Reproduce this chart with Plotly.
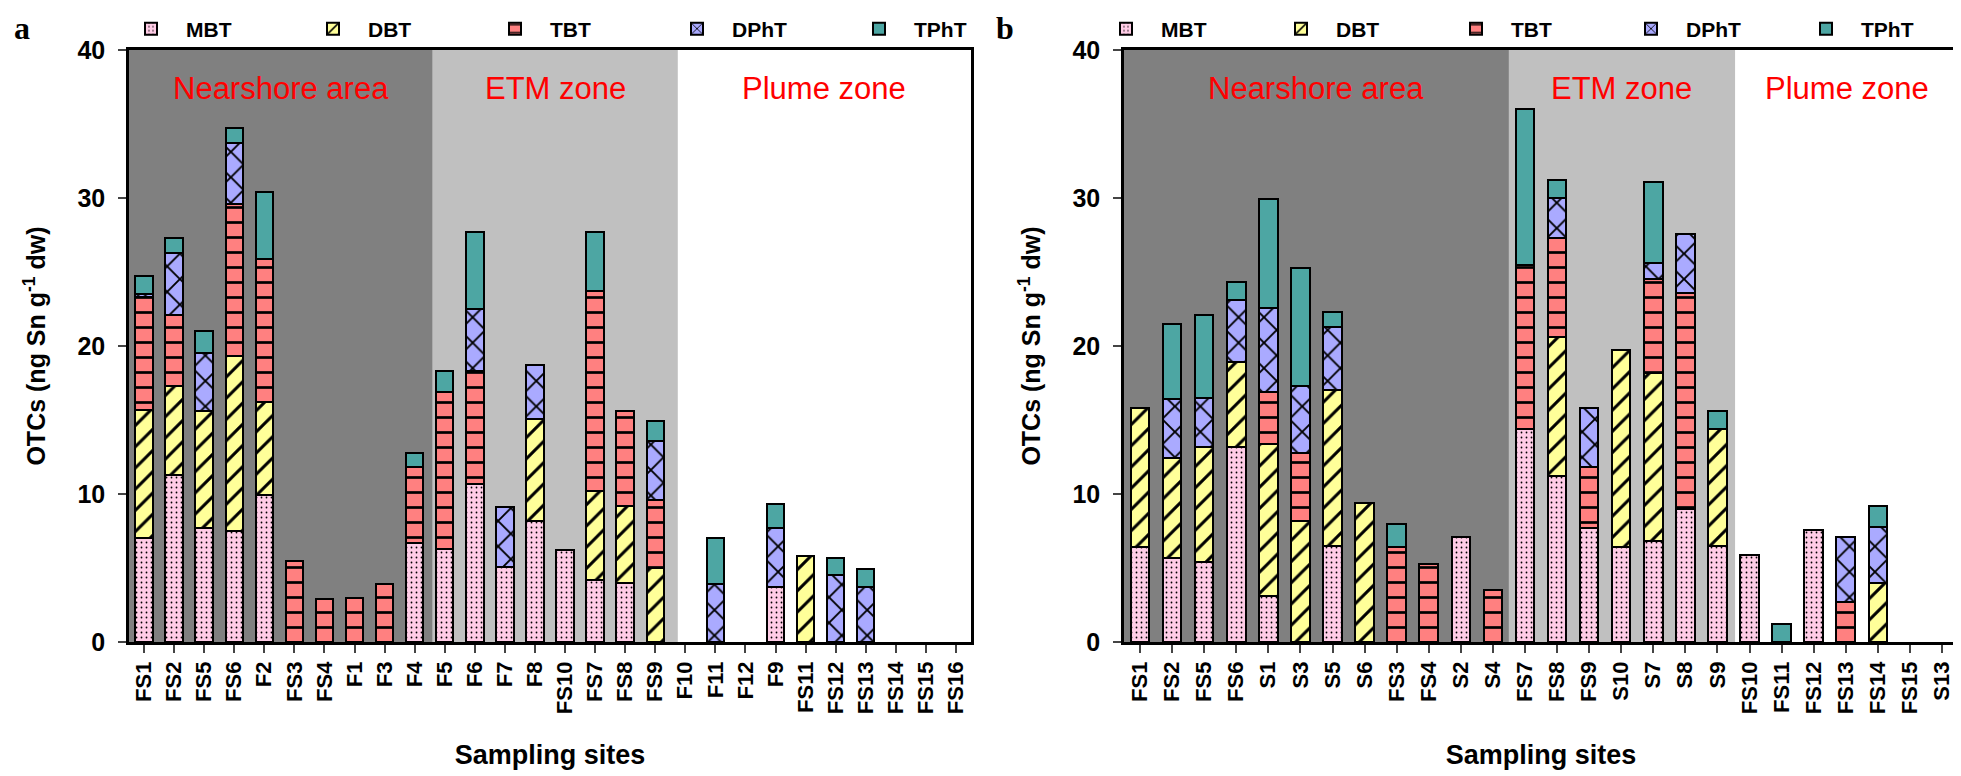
import plotly.graph_objects as go

# panel a
sites_a = ["FS1", "FS2", "FS5", "FS6", "F2", "FS3", "FS4", "F1", "F3", "F4",
           "F5", "F6", "F7", "F8", "FS10", "FS7", "FS8", "FS9",
           "F10", "F11", "F12", "F9", "FS11", "FS12", "FS13", "FS14", "FS15", "FS16"]
mbt_a = [7.0, 11.3, 7.7, 7.5, 9.9, 0, 0, 0, 0, 6.7, 6.3, 10.7, 5.1, 8.2, 6.2, 4.2, 4.0, 0,
         0, 0, 0, 3.7, 0, 0, 0, 0, 0, 0]
dbt_a = [8.7, 6.0, 7.9, 11.8, 6.3, 0, 0, 0, 0, 0, 0, 0, 0, 6.9, 0, 6.0, 5.2, 5.0,
         0, 0, 0, 0, 5.8, 0, 0, 0, 0, 0]
tbt_a = [7.6, 4.8, 0, 10.3, 9.7, 5.5, 2.9, 3.0, 3.9, 5.1, 10.6, 7.6, 0, 0, 0, 13.5, 6.4, 4.6,
         0, 0, 0, 0, 0, 0, 0, 0, 0, 0]
dpht_a = [0.2, 4.2, 3.9, 4.1, 0, 0, 0, 0, 0, 0, 0, 4.2, 4.0, 3.6, 0, 0, 0, 4.0,
          0, 3.9, 0, 4.0, 0, 4.5, 3.7, 0, 0, 0]
tpht_a = [1.2, 1.0, 1.5, 1.0, 4.5, 0, 0, 0, 0, 1.0, 1.4, 5.2, 0, 0, 0, 4.0, 0, 1.3,
          0, 3.1, 0, 1.6, 0, 1.2, 1.2, 0, 0, 0]

# panel b
sites_b = ["FS1", "FS2", "FS5", "FS6", "S1", "S3", "S5", "S6", "FS3", "FS4", "S2", "S4",
           "FS7", "FS8", "FS9", "S10", "S7", "S8", "S9",
           "FS10", "FS11", "FS12", "FS13", "FS14", "FS15", "S13"]
mbt_b = [6.4, 5.7, 5.4, 13.2, 3.1, 0, 6.5, 0, 0, 0, 7.1, 0,
         14.4, 11.2, 7.7, 6.4, 6.8, 9.0, 6.5, 5.9, 0, 7.6, 0, 0, 0, 0]
dbt_b = [9.4, 6.7, 7.8, 5.7, 10.3, 8.2, 10.5, 9.4, 0, 0, 0, 0,
         0, 9.4, 0, 13.3, 11.4, 0, 7.9, 0, 0, 0, 0, 4.0, 0, 0]
tbt_b = [0, 0, 0, 0, 3.5, 4.6, 0, 0, 6.4, 5.3, 0, 3.5,
         11.1, 6.7, 4.1, 0, 6.3, 14.6, 0, 0, 0, 0, 2.7, 0, 0, 0]
dpht_b = [0, 4.0, 3.3, 4.2, 5.7, 4.5, 4.3, 0, 0, 0, 0, 0,
          0, 2.7, 4.0, 0, 1.1, 4.0, 0, 0, 0, 0, 4.4, 3.8, 0, 0]
tpht_b = [0, 5.1, 5.6, 1.2, 7.3, 8.0, 1.0, 0, 1.6, 0, 0, 0,
          10.5, 1.2, 0, 0, 5.5, 0, 1.2, 0, 1.2, 0, 0, 1.4, 0, 0]

zones = ["Nearshore area", "ETM zone", "Plume zone"]
edges_a = [-0.5, 9.6, 17.75, 27.5]
edges_b = [-0.5, 11.5, 18.55, 25.5]
zone_fill = ["#808080", "#C0C0C0", "rgba(0,0,0,0)"]

species = [
    ("MBT", "#FFCCE6", ".", 5, 0.1),
    ("DBT", "#FFFF99", "/", 15, 0.2),
    ("TBT", "#FF8080", "-", 15, 0.18),
    ("DPhT", "#AAAAFF", "x", 18, 0.2),
    ("TPhT", "#4DA6A3", "", 8, 0.2),
]
vals_a = [mbt_a, dbt_a, tbt_a, dpht_a, tpht_a]
vals_b = [mbt_b, dbt_b, tbt_b, dpht_b, tpht_b]

FONT = "Arial, Liberation Sans, sans-serif"

fig = go.Figure()
for (name, col, shp, sz, sol), va, vb in zip(species, vals_a, vals_b):
    mk = dict(color=col, line=dict(color="black", width=2),
              pattern=dict(shape=shp, fgcolor="black", fgopacity=1, bgcolor=col, size=sz,
                           solidity=sol, fillmode="overlay"))
    fig.add_trace(go.Bar(x=sites_a, y=[v if v else None for v in va], name=name,
                         marker=mk, xaxis="x", yaxis="y", legend="legend"))
    fig.add_trace(go.Bar(x=sites_b, y=[v if v else None for v in vb], name=name,
                         marker=mk, xaxis="x2", yaxis="y2", legend="legend2"))

shapes = []
annos = []
for xr, yr, edges in [("x", "y", edges_a), ("x2", "y2", edges_b)]:
    for i, z in enumerate(zones):
        shapes.append(dict(type="rect", xref=xr, yref=yr + " domain", x0=edges[i], x1=edges[i + 1],
                           y0=0, y1=1, fillcolor=zone_fill[i], line_width=0, layer="below"))
        annos.append(dict(text=z, xref=xr, yref=yr, x=(edges[i] + edges[i + 1]) / 2, y=37.4,
                          showarrow=False, font=dict(family=FONT, size=31, color="red")))

for letter, px in [("a", 14), ("b", 997)]:
    annos.append(dict(text=letter, xref="paper", yref="paper", x=px / 1961, y=1 - 20 / 776,
                      xanchor="center", yanchor="middle", showarrow=False,
                      font=dict(family="Liberation Serif", size=32, weight="bold", color="black")))

xax = dict(type="category", tickangle=-90, ticks="outside", ticklen=8, tickwidth=2,
           linecolor="black", linewidth=2.5, mirror=True, showgrid=False,
           tickfont=dict(family=FONT, size=22, weight="bold", color="black"),
           title=dict(text="Sampling sites", standoff=32,
                      font=dict(family=FONT, size=27, weight="bold", color="black")),
           automargin=False)
yax = dict(range=[0, 40], tickvals=[0, 10, 20, 30, 40], ticks="outside", ticklen=8, tickwidth=2,
           linecolor="black", linewidth=2.5, mirror=True, showgrid=False, zeroline=False,
           domain=[142 / 776, 734 / 776], ticklabelstandoff=8,
           tickfont=dict(family=FONT, size=25, weight="bold", color="black"),
           title=dict(text="OTCs (ng Sn g<sup>-1</sup> dw)", standoff=25,
                      font=dict(family=FONT, size=25, weight="bold", color="black")),
           automargin=False)

leg = dict(orientation="h", yanchor="middle", y=1 - 21 / 776, itemwidth=60,
           entrywidthmode="pixels", traceorder="normal",
           bgcolor="rgba(0,0,0,0)", font=dict(family=FONT, size=21, weight="bold", color="black"))

fig.update_layout(
    width=1961, height=776, margin=dict(l=0, r=0, t=0, b=0),
    paper_bgcolor="white", plot_bgcolor="white",
    barmode="stack", bargap=0.42,
    xaxis=dict(xax, domain=[121 / 1961, 963 / 1961], anchor="y", range=[-0.5, len(sites_a) - 0.5]),
    xaxis2=dict(xax, domain=[1116 / 1961, 1950 / 1961], anchor="y2", range=[-0.5, len(sites_b) - 0.5]),
    yaxis=dict(yax, anchor="x"),
    yaxis2=dict(yax, anchor="x2"),
    legend=dict(leg, x=108 / 1961, xanchor="left", entrywidth=107),
    legend2=dict(leg, x=1958 / 1961, xanchor="right", entrywidth=100),
    shapes=shapes, annotations=annos,
)

fig.write_html("out.html")
